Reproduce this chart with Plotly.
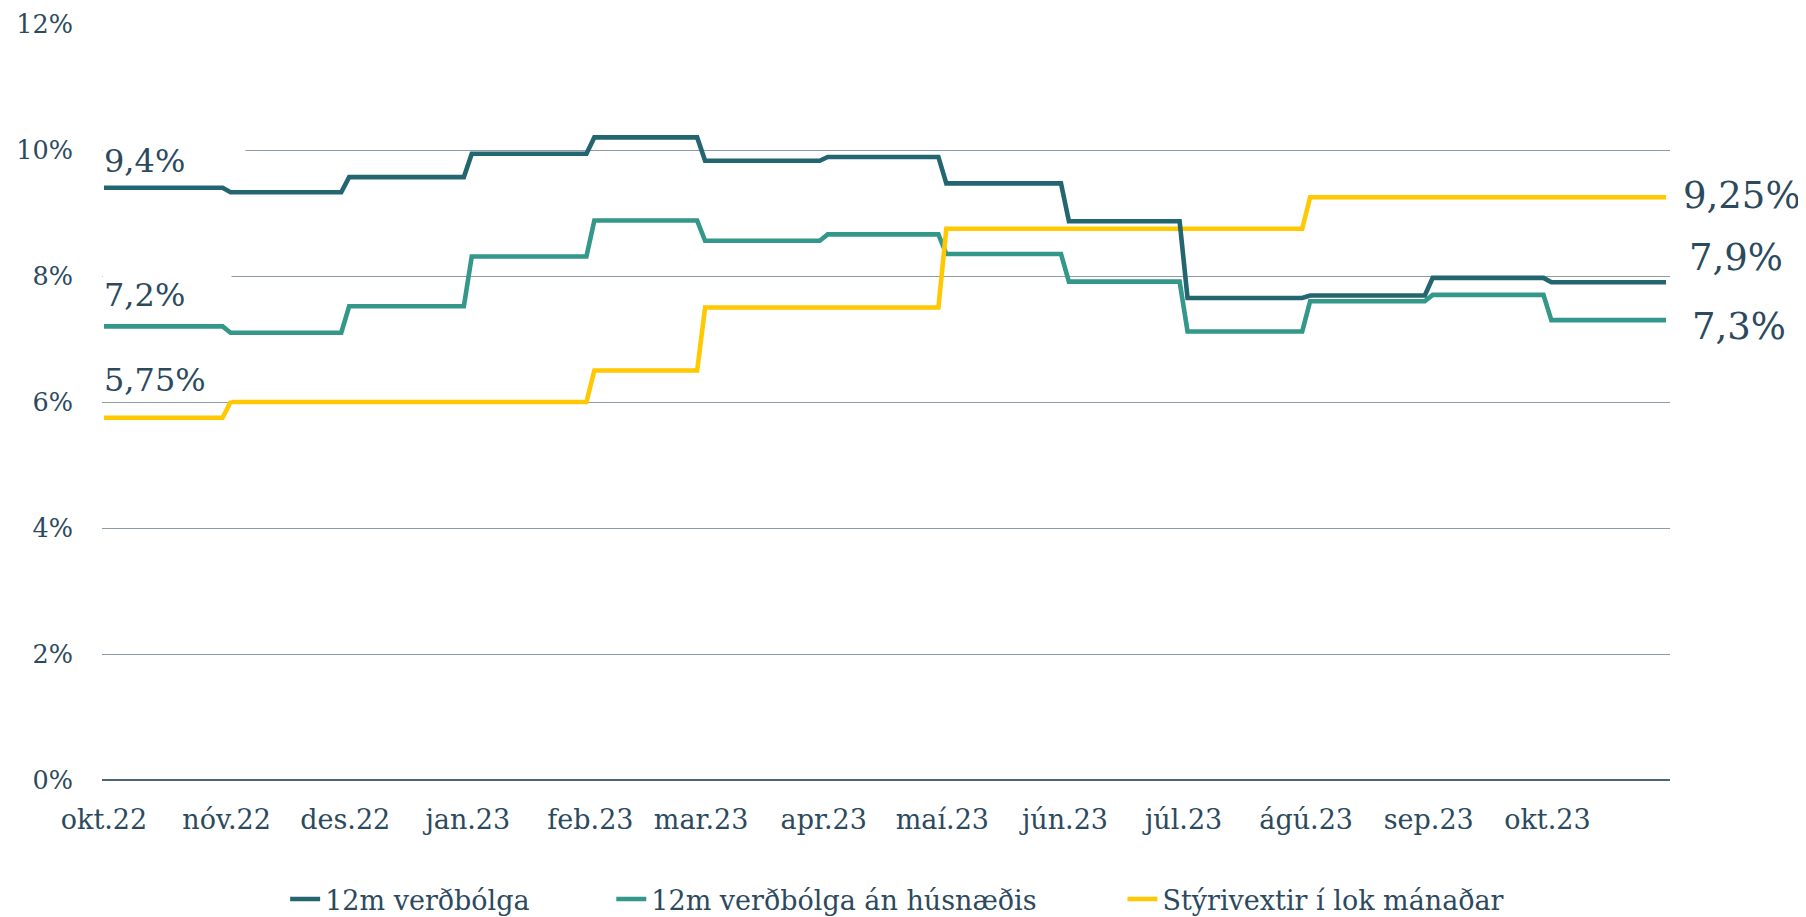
import calendar
from datetime import date, timedelta
import plotly.graph_objects as go

# ---- data (monthly values, %) ----
months = ["2022-10", "2022-11", "2022-12", "2023-01", "2023-02", "2023-03", "2023-04",
          "2023-05", "2023-06", "2023-07", "2023-08", "2023-09", "2023-10"]
tick_labels = ["okt.22", "nóv.22", "des.22", "jan.23", "feb.23", "mar.23", "apr.23",
               "maí.23", "jún.23", "júl.23", "ágú.23", "sep.23", "okt.23"]
verdbolga = [9.4, 9.33, 9.57, 9.94, 10.2, 9.83, 9.89, 9.47, 8.87, 7.65, 7.69, 7.97, 7.9]
verdbolga_an_hus = [7.2, 7.1, 7.52, 8.31, 8.88, 8.56, 8.66, 8.35, 7.91, 7.12, 7.6, 7.7, 7.3]
styrivextir = [5.75, 6.0, 6.0, 6.0, 6.5, 7.5, 7.5, 8.75, 8.75, 8.75, 9.25, 9.25, 9.25]

names = ["12m verðbólga", "12m verðbólga án húsnæðis", "Stýrivextir í lok mánaðar"]
colors = ["#236670", "#33978a", "#ffc800"]
text_color = "#2c4a5e"
FONT = "DejaVu Serif"


def month_start(m):
    y, mo = map(int, m.split("-"))
    return date(y, mo, 1)


def month_end(m):
    y, mo = map(int, m.split("-"))
    return date(y, mo, calendar.monthrange(y, mo)[1])


def step_series(values):
    xs, ys = [], []
    for i, (m, v) in enumerate(zip(months, values)):
        s = month_start(m) if i == 0 else month_start(m) + timedelta(days=1)
        xs += [s, month_end(m)]
        ys += [v, v]
    return xs, ys


def fmt(v, dec):
    return f"{v:.{dec}f}".replace(".", ",") + "%"


fig = go.Figure()
series = [verdbolga, verdbolga_an_hus, styrivextir]
legend_ids = ["legend", "legend2", "legend3"]
draw_order = [1, 2, 0]
for idx in draw_order:
    xs, ys = step_series(series[idx])
    fig.add_trace(go.Scatter(
        x=xs, y=ys, mode="lines", name=names[idx],
        line=dict(color=colors[idx], width=4.6),
        legend=legend_ids[idx], hoverinfo="skip",
    ))

x0 = month_start(months[0])
# left data labels
left_specs = [(verdbolga, 1, 27, 140), (verdbolga_an_hus, 1, 31, 126), (styrivextir, 2, 38, 126)]
for vals, dec, ysh, w in left_specs:
    fig.add_annotation(
        x=x0, y=vals[0], xref="x", yref="y", text=fmt(vals[0], dec),
        showarrow=False, xanchor="left", yanchor="middle", align="left",
        xshift=-2, yshift=ysh,
        bgcolor="white", width=w, height=38,
        font=dict(family=FONT, size=32, color=text_color),
    )
# right data labels
right_specs = [(styrivextir, 2, 2, 11), (verdbolga, 1, 25, 17), (verdbolga_an_hus, 1, -6, 20)]
for vals, dec, ysh, xsh in right_specs:
    fig.add_annotation(
        x=1, y=vals[-1], xref="paper", yref="y", text=fmt(vals[-1], dec),
        showarrow=False, xanchor="left", yanchor="middle",
        xshift=xsh, yshift=ysh,
        font=dict(family=FONT, size=37, color=text_color),
    )

legend_x = [0.1168, 0.3248, 0.6508]
legend_common = dict(orientation="h", xanchor="left", y=-0.158, yanchor="middle",
                     font=dict(family=FONT, size=27, color=text_color),
                     bgcolor="rgba(0,0,0,0)")

fig.update_layout(
    width=1806, height=917,
    margin=dict(l=94, r=144, t=16, b=145, autoexpand=False),
    paper_bgcolor="white", plot_bgcolor="white",
    font=dict(family=FONT, size=26, color=text_color),
    showlegend=True,
    legend=dict(x=legend_x[0], **legend_common),
    legend2=dict(x=legend_x[1], **legend_common),
    legend3=dict(x=legend_x[2], **legend_common),
    xaxis=dict(
        type="date",
        range=["2022-09-30 12:00", "2023-11-01"],
        tickvals=[month_start(m) for m in months],
        ticktext=tick_labels,
        showgrid=False, zeroline=False, showline=False, ticks="",
        tickfont=dict(family=FONT, size=27, color=text_color),
        ticklabelstandoff=21, automargin=False,
    ),
    yaxis=dict(
        range=[0, 12], tickvals=[0, 2, 4, 6, 8, 10, 12],
        ticktext=["0%", "2%", "4%", "6%", "8%", "10%", "12%"],
        showgrid=True, gridcolor="#8e9ca7", gridwidth=1.3,
        zeroline=True, zerolinecolor="#4d6579", zerolinewidth=1.5,
        showline=False, ticks="",
        tickfont=dict(family=FONT, size=25.5, color=text_color),
        ticklabelstandoff=28, automargin=False,
    ),
)

fig.write_html("out.html")
